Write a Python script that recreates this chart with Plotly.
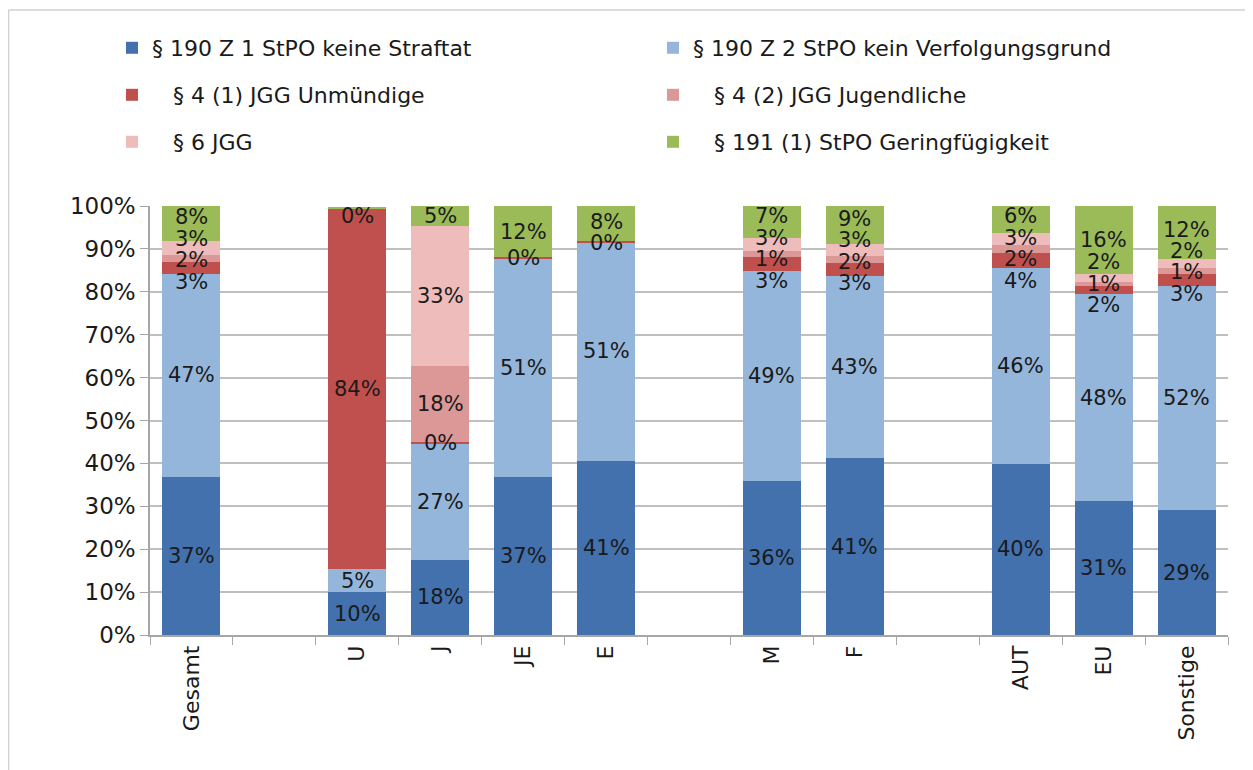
import plotly.graph_objects as go

categories = ["Gesamt", "\u2009", "U", "J", "JE", "E", "\u2009\u2009", "M", "F",
              "\u2009\u2009\u2009", "AUT", "EU", "Sonstige"]

series_names = [
    "§ 190 Z 1 StPO keine Straftat",
    "§ 190 Z 2 StPO kein Verfolgungsgrund",
    "\u00a0\u00a0\u00a0§ 4 (1) JGG Unmündige",
    "\u00a0\u00a0\u00a0§ 4 (2) JGG Jugendliche",
    "\u00a0\u00a0\u00a0§ 6 JGG",
    "\u00a0\u00a0\u00a0§ 191 (1) StPO Geringfügigkeit",
]

#              Gesamt  -     U     J     JE    E     -     M     F     -     AUT   EU    Sonstige
z1_keine    = [36.9, None, 10.0, 17.6, 36.8, 40.6, None, 35.8, 41.2, None, 39.9, 31.2, 29.1]
z2_kein     = [47.2, None,  5.4, 27.0, 51.0, 51.0, None, 49.0, 42.6, None, 45.6, 48.2, 52.3]
jgg4_1      = [ 2.9, None, 83.9,  0.3,  0.3,  0.3, None,  3.4,  2.9, None,  3.6,  2.0,  2.7]
jgg4_2      = [ 1.6, None, None, 17.8, None, None, None,  1.4,  1.6, None,  1.7,  1.0,  1.4]
jgg6        = [ 3.2, None, None, 32.7, None, None, None,  2.9,  2.8, None,  3.0,  1.7,  2.2]
stpo191     = [ 8.2, None,  0.4,  4.6, 11.9,  8.1, None,  7.4,  8.9, None,  6.2, 15.9, 12.3]

y_ticks = [0, 10, 20, 30, 40, 50, 60, 70, 80, 90, 100]
y_ticktext = ["0%", "10%", "20%", "30%", "40%", "50%", "60%", "70%", "80%", "90%", "100%"]

colors = ["#4271AE", "#95B6DB", "#C0504D", "#DB9896", "#EDBCBB", "#9BBB59"]
all_series = [z1_keine, z2_kein, jgg4_1, jgg4_2, jgg6, stpo191]
legend_ids = ["legend", "legend", "legend2", "legend2", "legend3", "legend3"]

FONT = "DejaVu Sans"
TXT = "#1a1a1a"

fig = go.Figure()
for name, vals, col, lg in zip(series_names, all_series, colors, legend_ids):
    fig.add_trace(go.Bar(
        x=categories, y=vals, name=name, marker=dict(color=col, line=dict(width=0)),
        legend=lg, hoverinfo="skip",
    ))


# ---- data labels: centred on segments, spread apart where they would collide ----
def spread(desired, gap, cap):
    # desired: centres sorted from top to bottom
    n = len(desired)
    clusters = [[i] for i in range(n)]
    while True:
        pos = []
        for ci, cl in enumerate(clusters):
            c = sum(desired[i] for i in cl) / len(cl)
            p = [c + gap * ((len(cl) - 1) / 2 - j) for j in range(len(cl))]
            if ci == 0 and p[0] > cap:
                d = p[0] - cap
                p = [v - d for v in p]
            pos.append(p)
        merged = False
        for ci in range(len(clusters) - 1):
            if pos[ci][-1] - pos[ci + 1][0] < gap - 1e-9:
                clusters[ci] = clusters[ci] + clusters[ci + 1]
                del clusters[ci + 1]
                merged = True
                break
        if not merged:
            return [v for p in pos for v in p]


annotations = []
for k, cat in enumerate(categories):
    segs = []
    base = 0.0
    for vals in all_series:
        v = vals[k]
        if v is None:
            continue
        segs.append((base + v / 2, v))
        base += v
    if not segs:
        continue
    segs = segs[::-1]
    ys = spread([s[0] for s in segs], 5.0, 97.6)
    for (c, v), y in zip(segs, ys):
        annotations.append(dict(
            x=cat, y=y, xref="x", yref="y", text=f"{round(v)}%", showarrow=False,
            font=dict(family=FONT, size=21, color=TXT), xanchor="center", yanchor="middle",
        ))

# page body has an 8px margin: the figure is sized to fit inside the window
W, H = 1245, 762
L, R, T, B = 142, 25, 198, 135
pw, ph = W - L - R, H - T - B


def px_x(x):
    return (x - L) / pw


def px_y(y):
    return (H - B - y) / ph


leg_common = dict(orientation="h", xanchor="left", yanchor="middle", x=px_x(104),
                  entrywidth=496, entrywidthmode="pixels", bgcolor="rgba(0,0,0,0)",
                  font=dict(family=FONT, size=22, color=TXT), traceorder="normal")

fig.update_layout(
    width=W, height=H,
    margin=dict(l=L, r=R, t=T, b=B, autoexpand=False),
    paper_bgcolor="white", plot_bgcolor="white",
    barmode="stack", bargap=0.3,
    legend=dict(**leg_common, y=px_y(40)),
    legend2=dict(**leg_common, y=px_y(87)),
    legend3=dict(**leg_common, y=px_y(134)),
    annotations=annotations,
    xaxis=dict(type="category", categoryorder="array", categoryarray=categories,
               tickson="boundaries", ticks="outside", ticklen=8, tickcolor="#A6A6A6",
               showline=True, linecolor="#A6A6A6", linewidth=1.5, tickangle=-90,
               tickfont=dict(family=FONT, size=22, color=TXT),
               showgrid=False, fixedrange=True),
    yaxis=dict(range=[0, 100], tickmode="array", tickvals=y_ticks, ticktext=y_ticktext,
               ticks="outside", ticklen=8, tickcolor="#A6A6A6", showline=True,
               linecolor="#A6A6A6", linewidth=1.5, showgrid=True, gridcolor="#BFBFBF",
               gridwidth=1.5, zeroline=False,
               tickfont=dict(family=FONT, size=23, color=TXT), fixedrange=True),
    shapes=[
        dict(type="line", xref="paper", yref="paper", x0=px_x(0.5), x1=px_x(1260),
             y0=px_y(2), y1=px_y(2), line=dict(color="#D0D0D0", width=1.5)),
        dict(type="line", xref="paper", yref="paper", x0=px_x(0.5), x1=px_x(0.5),
             y0=px_y(2), y1=px_y(780), line=dict(color="#D0D0D0", width=1.5)),
    ],
)

fig.write_html("out.html")
